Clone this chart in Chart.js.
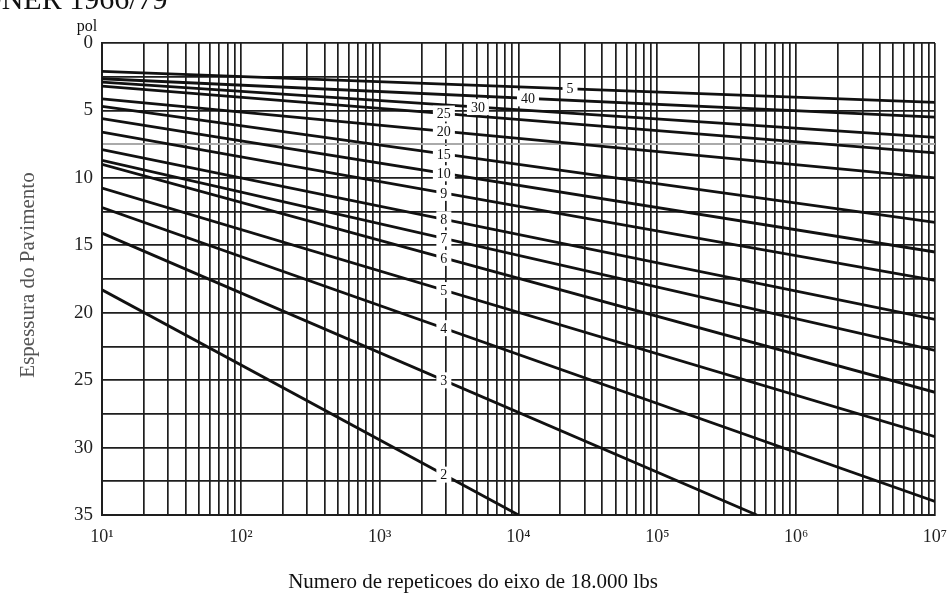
<!DOCTYPE html>
<html>
<head>
<meta charset="utf-8">
<script src="https://cdn.jsdelivr.net/npm/chart.js@4"></script>
<style>
  html, body { margin: 0; padding: 0; background: #fff; }
  canvas { display: block; }
</style>
</head>
<body>
<canvas id="grafico" width="947" height="597"></canvas>
<script>
// curvas de CBR: espessura (pol) no inicio e no fim de cada reta
const curvas = ['2', '3', '4', '5', '6', '7', '8', '9', '10', '15', '20', '25', '30', '40', '5'];
const nInicio = [10, 10, 10, 10, 10, 10, 10, 10, 10, 10, 10, 10, 10, 10, 10];
const nFim = [1e4, 5.2e5, 1e7, 1e7, 1e7, 1e7, 1e7, 1e7, 1e7, 1e7, 1e7, 1e7, 1e7, 1e7, 1e7];
const espInicio = [18.3, 14.1, 12.2, 10.75, 9.0, 8.7, 7.9, 6.6, 5.6, 4.7, 4.15, 3.2, 2.9, 2.65, 2.1];
const espFim = [35, 35, 34.0, 29.2, 25.9, 22.8, 20.5, 17.6, 15.5, 13.3, 10.0, 8.15, 7.0, 5.5, 4.4];
// posicao (N) onde fica o numero de cada curva
const nRotulo = [2900, 2900, 2900, 2900, 2900, 2900, 2900, 2900, 2900, 2900, 2900, 2900, 5100, 11700, 23500];

const decadas = [1e1, 1e2, 1e3, 1e4, 1e5, 1e6, 1e7];
const rotulosDecadas = ['10¹', '10²', '10³', '10⁴', '10⁵', '10⁶', '10⁷'];

const serif = '"Liberation Serif", "DejaVu Serif", serif';

const datasets = curvas.map((c, i) => ({
  label: 'CBR ' + c,
  data: [{ x: nInicio[i], y: espInicio[i] }, { x: nFim[i], y: espFim[i] }],
  borderColor: '#111',
  borderWidth: 2.8,
  pointRadius: 0,
  fill: false,
  tension: 0
}));

const rotulosPlugin = {
  id: 'rotulos',
  afterDatasetsDraw(chart) {
    const ctx = chart.ctx;
    const x = chart.scales.x;
    ctx.save();
    ctx.font = '14px ' + serif;
    ctx.textAlign = 'center';
    ctx.textBaseline = 'middle';
    curvas.forEach((txt, i) => {
      const pts = chart.getDatasetMeta(i).data;
      const px = x.getPixelForValue(nRotulo[i]);
      const t = (px - pts[0].x) / (pts[1].x - pts[0].x);
      const py = pts[0].y + t * (pts[1].y - pts[0].y);
      const w = ctx.measureText(txt).width + 8;
      ctx.fillStyle = '#fff';
      ctx.fillRect(px - w / 2, py - 8, w, 16);
      ctx.fillStyle = '#111';
      ctx.fillText(txt, px, py + 1);
    });
    ctx.restore();
  },
  afterDraw(chart) {
    const ctx = chart.ctx;
    const area = chart.chartArea;
    ctx.save();
    ctx.fillStyle = '#111';
    ctx.textBaseline = 'alphabetic';
    ctx.textAlign = 'left';
    ctx.font = '30px ' + serif;
    ctx.fillText('DNER 1966/79', -20, 9);

    ctx.textAlign = 'center';
    ctx.font = '16px ' + serif;
    ctx.fillText('pol', 87, 31);

    ctx.font = '21px ' + serif;
    ctx.fillText('Numero de repeticoes do eixo de 18.000 lbs', 473, area.bottom + 73);

    ctx.fillStyle = '#555';
    ctx.translate(28, 275);
    ctx.rotate(-Math.PI / 2);
    ctx.textBaseline = 'middle';
    ctx.fillText('Espessura do Pavimento', 0, 0);
    ctx.restore();
  }
};

new Chart(document.getElementById('grafico'), {
  type: 'line',
  data: { datasets },
  options: {
    responsive: false,
    animation: false,
    layout: { padding: { top: 43, right: 12, left: 0, bottom: 0 } },
    plugins: { legend: { display: false }, tooltip: { enabled: false } },
    scales: {
      x: {
        type: 'logarithmic',
        min: 10,
        max: 1e7,
        afterBuildTicks(scale) {
          const ticks = [];
          for (let k = 0; k < decadas.length - 1; k++) {
            for (let m = 1; m <= 9; m++) ticks.push({ value: m * decadas[k] });
          }
          ticks.push({ value: decadas[decadas.length - 1] });
          scale.ticks = ticks;
        },
        afterFit(scale) {
          scale.height = 82;
          scale.paddingLeft = 0;
          scale.paddingRight = 0;
        },
        ticks: {
          autoSkip: false,
          maxRotation: 0,
          padding: 11,
          color: '#222',
          font: { family: serif, size: 18 },
          callback(v) {
            const i = decadas.indexOf(v);
            return i >= 0 ? rotulosDecadas[i] : '';
          }
        },
        grid: { color: '#1e1e1e', lineWidth: 1.7, drawTicks: false },
        border: { color: '#1e1e1e', width: 2 }
      },
      y: {
        type: 'linear',
        reverse: true,
        min: 0,
        max: 35,
        afterFit(scale) { scale.width = 102; },
        ticks: {
          stepSize: 2.5,
          autoSkip: false,
          padding: 9,
          color: '#222',
          font: { family: serif, size: 19 },
          callback: v => (v % 5 === 0 ? v : '')
        },
        grid: {
          color: c => (c.tick && c.tick.value === 7.5 ? '#aaa' : '#1e1e1e'),
          lineWidth: c => (c.tick && c.tick.value === 7.5 ? 2 : 1.7),
          drawTicks: false
        },
        border: { color: '#1e1e1e', width: 2 }
      }
    }
  },
  plugins: [rotulosPlugin]
});
</script>
</body>
</html>
